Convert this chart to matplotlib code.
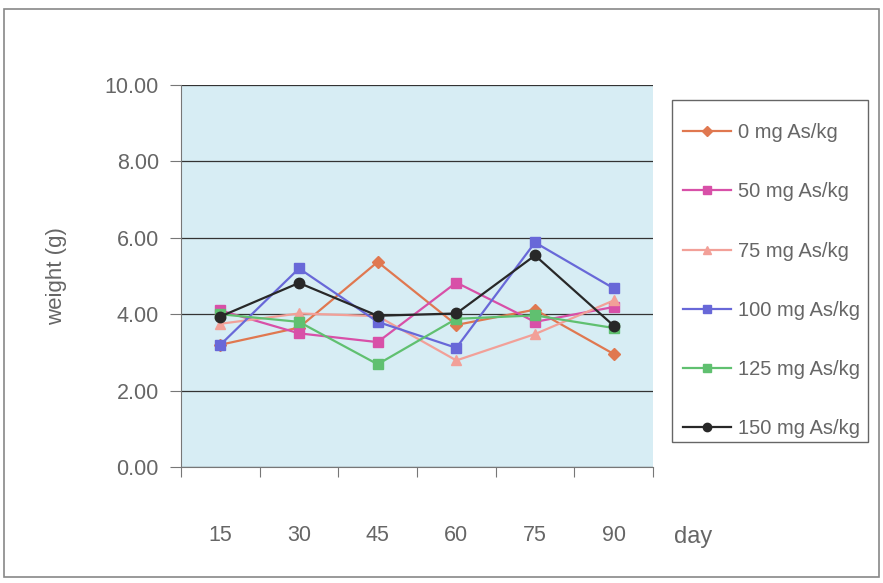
import numpy as np
import matplotlib
matplotlib.use("Agg")
import matplotlib.pyplot as plt
from matplotlib.patches import Rectangle

plt.rcParams['font.family'] = ['Liberation Sans', 'DejaVu Sans']

days = ['15', '30', '45', '60', '75', '90']
labels = ['0 mg As/kg', '50 mg As/kg', '75 mg As/kg',
          '100 mg As/kg', '125 mg As/kg', '150 mg As/kg']

w0 = [3.20, 3.65, 5.37, 3.72, 4.12, 2.96]
w50 = [4.10, 3.50, 3.27, 4.83, 3.80, 4.19]
w75 = [3.75, 4.02, 3.95, 2.79, 3.48, 4.36]
w100 = [3.20, 5.20, 3.80, 3.12, 5.88, 4.68]
w125 = [4.00, 3.80, 2.69, 3.88, 3.97, 3.64]
w150 = [3.94, 4.82, 3.96, 4.02, 5.54, 3.70]

series = [w0, w50, w75, w100, w125, w150]
colors = ['#E07850', '#D850A8', '#F2A098', '#6868D8', '#60C070', '#282828']
markers = ['D', 's', '^', 's', 's', 'o']
msizes = [6, 7, 7, 7.5, 7, 7.5]

txt_col = '#666666'

fig = plt.figure(figsize=(8.83, 5.83), dpi=100)
fig.patch.set_facecolor('white')
# outer border
fig.patches.append(Rectangle((0.005, 0.01), 0.99, 0.975, transform=fig.transFigure,
                             fill=False, edgecolor='#888888', lw=1.2))
# legend box drawn by hand so spacing can match
fig.patches.append(Rectangle((0.761, 0.2419), 0.222, 0.5866, transform=fig.transFigure,
                             fill=False, edgecolor='#666666', lw=1.0))

ax = fig.add_axes([0.205, 0.199, 0.5345, 0.655])
ax.set_facecolor('#D7EDF4')

x = np.arange(len(days))
for s, c, m, ms, lab in zip(series, colors, markers, msizes, labels):
    ax.plot(x, s, color=c, marker=m, markersize=ms, lw=1.6, label=lab)

ax.set_ylim(0, 10)
ax.set_xlim(-0.5, len(days) - 0.5)
ax.set_yticks(np.arange(0, 10.1, 2))
ax.set_yticklabels([f'{v:.2f}' for v in np.arange(0, 10.1, 2)])
ax.yaxis.grid(True, color='#333333', lw=0.9)
ax.set_axisbelow(True)

ax.set_xticks(np.arange(-0.5, len(days), 1.0))
ax.set_xticklabels([])
ax.set_xticks(x, minor=True)
ax.set_xticklabels(days, minor=True)
ax.tick_params(axis='x', which='minor', length=0, pad=42, labelsize=15.5, labelcolor=txt_col)
ax.tick_params(axis='x', which='major', length=7, color='#777777', direction='out')
ax.tick_params(axis='y', length=8, color='#777777', labelsize=15.5, labelcolor=txt_col, pad=8)

for side in ['top', 'right']:
    ax.spines[side].set_visible(False)
for side in ['left', 'bottom']:
    ax.spines[side].set_color('#777777')

ax.set_ylabel('weight (g)', fontsize=16, color=txt_col)
ax.yaxis.set_label_coords(-0.2415, 0.5)
fig.text(0.785, 0.079, 'day', fontsize=17, color=txt_col, ha='center', va='center')

leg = fig.legend(loc='upper left', bbox_to_anchor=(0.7735, 0.789), fontsize=14.5,
                 frameon=False, labelspacing=2.0, handlelength=2.4,
                 borderpad=0, handletextpad=0.35, markerscale=0.8, borderaxespad=0)
for t in leg.get_texts():
    t.set_color(txt_col)

fig.savefig('out.png', dpi=100)
